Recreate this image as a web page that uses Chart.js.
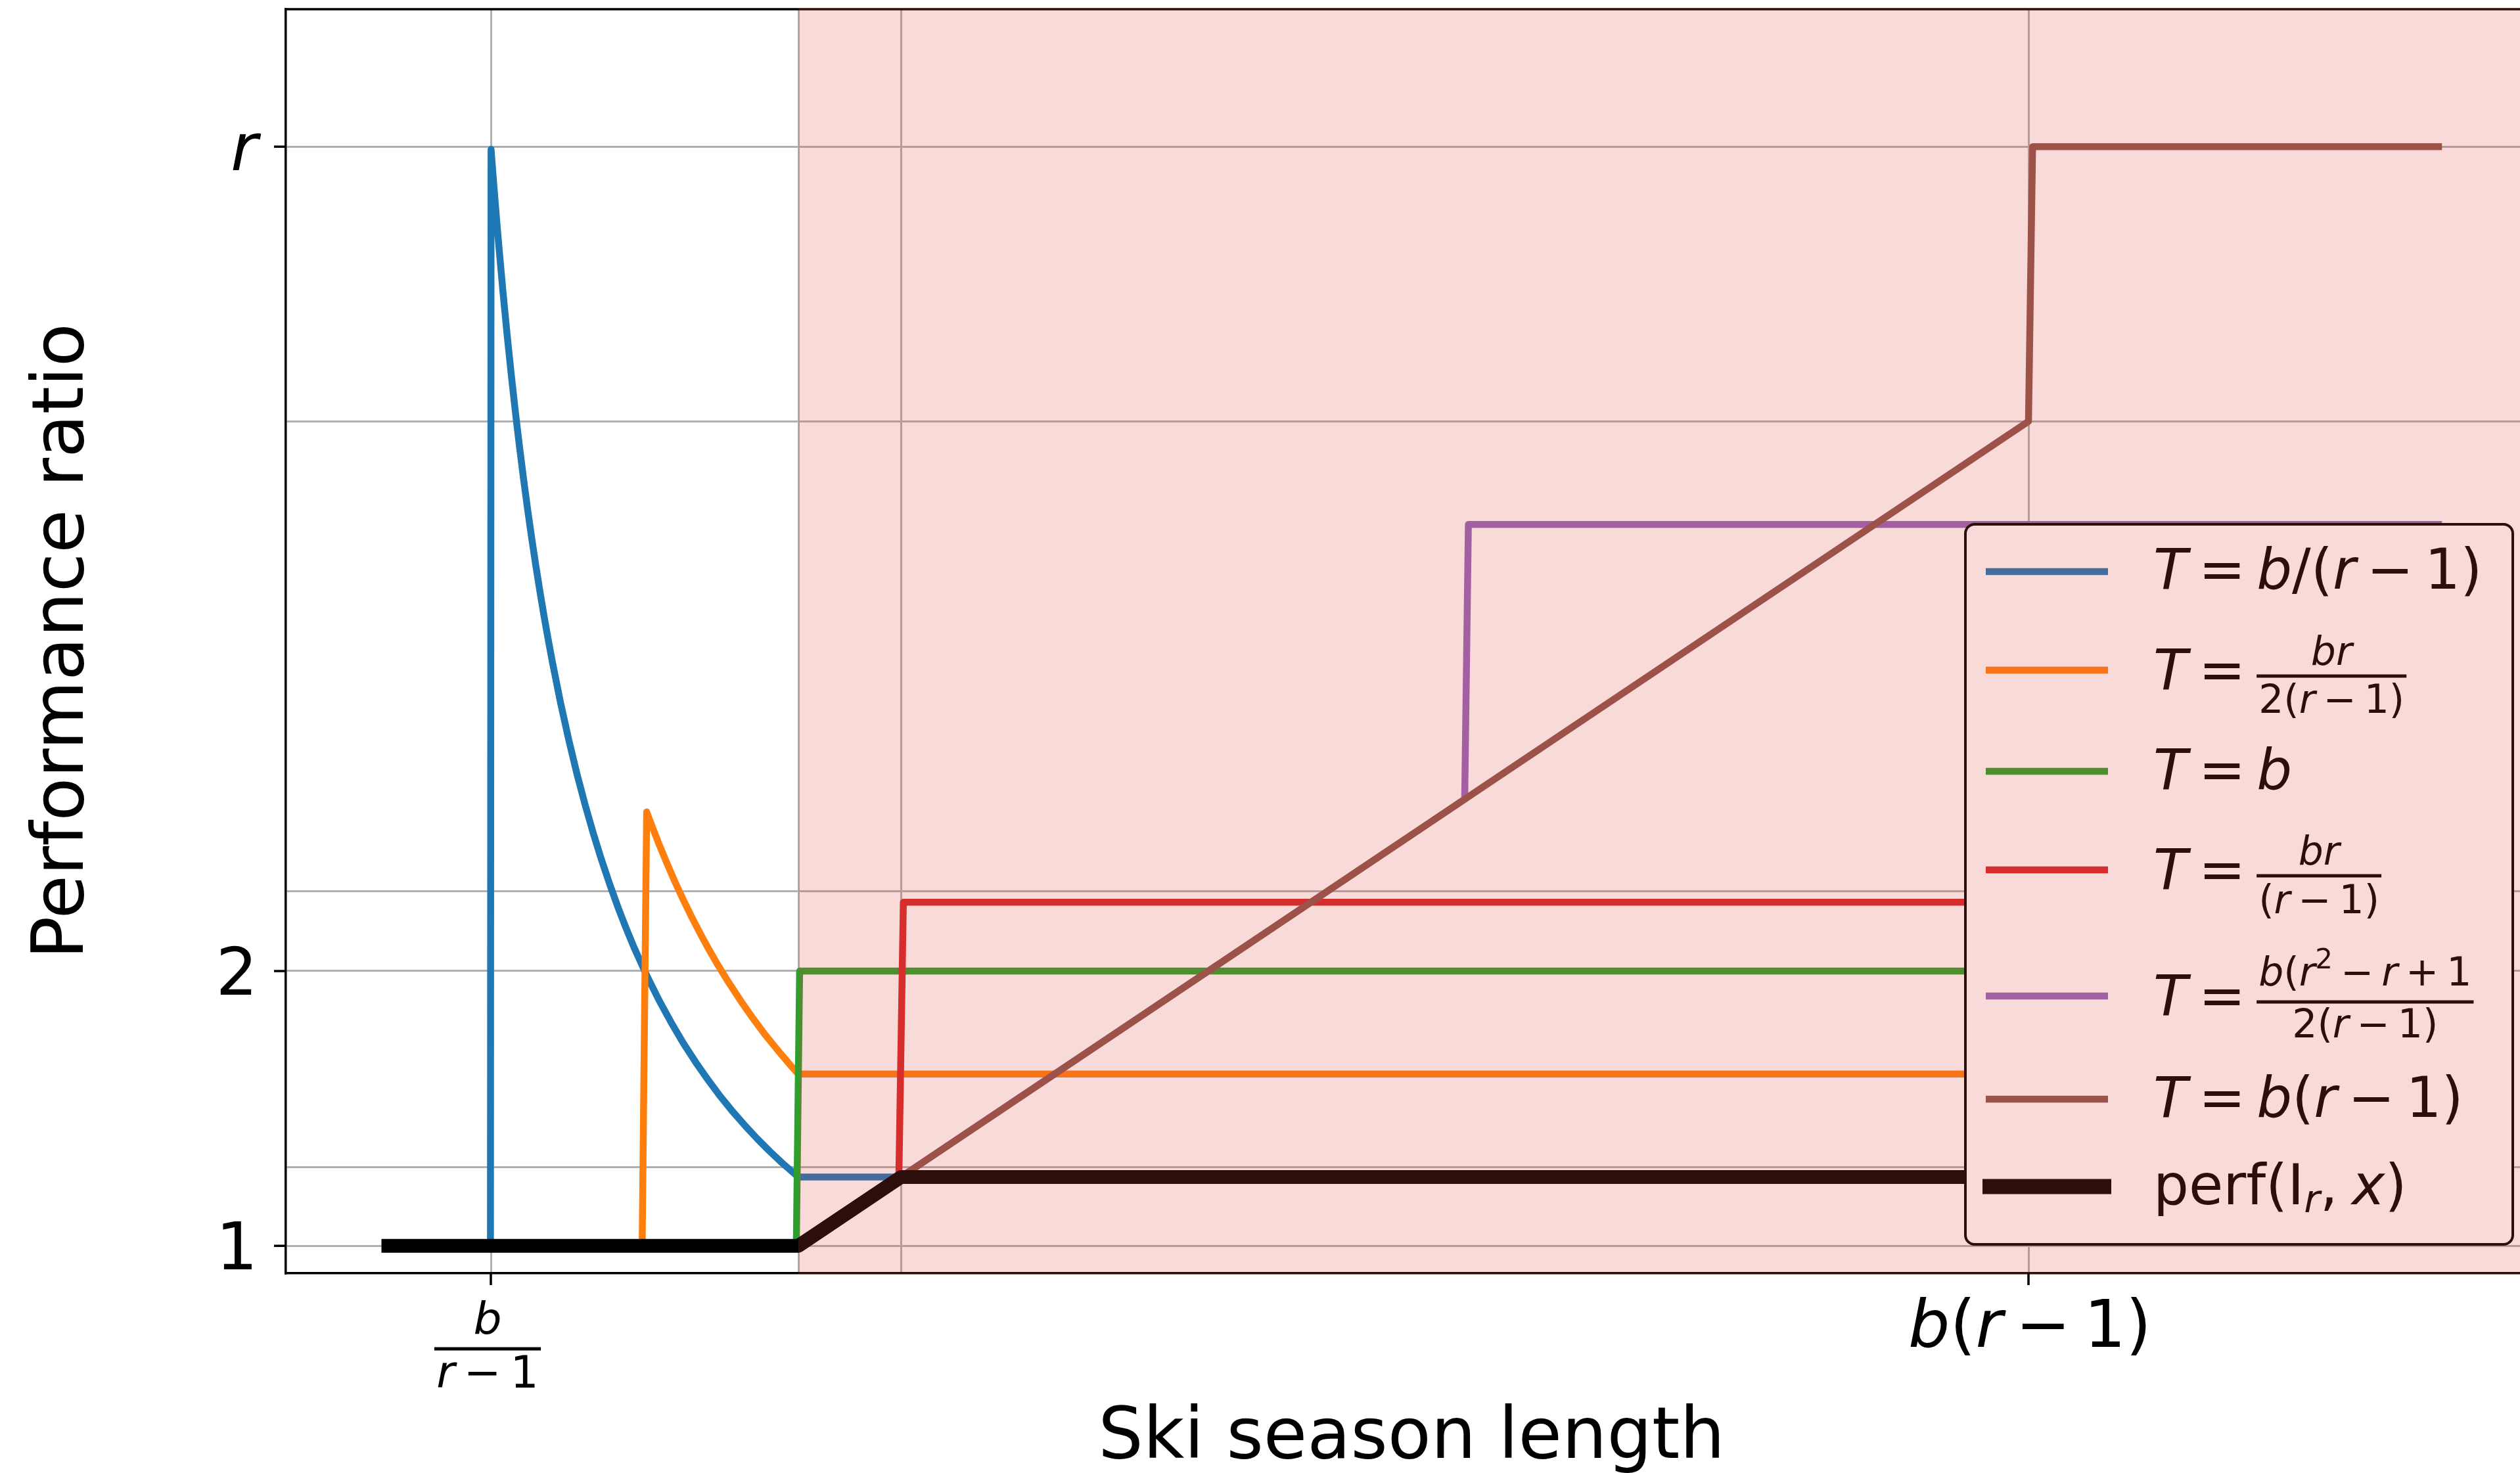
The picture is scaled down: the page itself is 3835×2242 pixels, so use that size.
<!DOCTYPE html>
<html>
<head>
<meta charset="utf-8">
<title>Ski season length vs performance ratio</title>
<script src="https://cdn.jsdelivr.net/npm/chart.js@4.4.0/dist/chart.umd.min.js"></script>
<style>
  html, body { margin: 0; padding: 0; overflow: hidden; background: #fff; }
  canvas { display: block; }
</style>
</head>
<body>
<canvas id="ratio-chart" width="3875" height="2242"></canvas>
<script>
// buy-at-T strategies for ski rental, with b = 1 and r = 5
const blueX = [0, 0.249, 0.2505, 0.255, 0.26, 0.265, 0.27, 0.28, 0.29, 0.30, 0.31, 0.32, 0.33, 0.34, 0.35, 0.36, 0.37, 0.38, 0.39, 0.40,
  0.42, 0.44, 0.46, 0.48, 0.50, 0.52, 0.54, 0.56, 0.58, 0.60, 0.63, 0.66, 0.69, 0.72, 0.75, 0.78, 0.81, 0.84, 0.87, 0.90, 0.93, 0.96, 1.00, 5.00];
const blueY = [1, 1, 4.99, 4.902, 4.808, 4.717, 4.630, 4.464, 4.310, 4.167, 4.032, 3.906, 3.788, 3.676, 3.571, 3.472, 3.378, 3.289, 3.205, 3.125,
  2.976, 2.841, 2.717, 2.604, 2.500, 2.404, 2.315, 2.232, 2.155, 2.083, 1.984, 1.894, 1.812, 1.736, 1.667, 1.603, 1.543, 1.488, 1.437, 1.389, 1.344, 1.302, 1.25, 1.25];

const orangeX = [0, 0.619, 0.630, 0.64, 0.66, 0.68, 0.70, 0.72, 0.74, 0.76, 0.78, 0.80, 0.83, 0.86, 0.89, 0.92, 0.95, 0.98, 1.00, 5.00];
const orangeY = [1, 1, 2.579, 2.539, 2.462, 2.390, 2.321, 2.257, 2.196, 2.138, 2.083, 2.031, 1.958, 1.890, 1.826, 1.766, 1.711, 1.658, 1.625, 1.625];

const greenX = [0, 0.995, 1.003, 5];
const greenY = [1, 1, 2, 2];

const redX = [0, 1, 1.245, 1.256, 5];
const redY = [1, 1, 1.245, 2.25, 2.25];

const purpleX = [0, 1, 2.625, 2.634, 5];
const purpleY = [1, 1, 2.625, 3.625, 3.625];

const brownX = [0, 1, 4.0, 4.01, 5];
const brownY = [1, 1, 4.0, 5, 5];

const perfX = [0, 1, 1.25, 5];
const perfY = [1, 1, 1.25, 1.25];

const xGrid = [0.25, 1, 1.25, 4];
const yGrid = [1, 1.287, 2, 2.29, 4, 5];
const xTickValues = [0.25, 4];
const yTickValues = [1, 2, 5];
const yTickLabels = ['1', '2', 'r'];
const shadeStart = 1;

const FAM = '"DejaVu Sans", "Liberation Sans", sans-serif';

// tiny mathtext-ish helpers
const I = t => ({ t, it: true });
const U = t => ({ t });
const S = (em = 0.2) => ({ sp: em });
const SUP = t => ({ t, sup: true });
const SUB = t => ({ t, it: true, sub: true });

function setFont(ctx, p, size) {
  const fs = (p.sup || p.sub) ? size * 0.7 : size;
  ctx.font = (p.it ? 'italic ' : '') + fs + 'px ' + FAM;
}

function mathWidth(ctx, parts, size) {
  let w = 0;
  for (const p of parts) {
    if (p.sp) { w += p.sp * size; continue; }
    setFont(ctx, p, size);
    w += ctx.measureText(p.t).width;
  }
  return w;
}

function drawMath(ctx, parts, x, y, size, align) {
  let cx = x;
  const w = mathWidth(ctx, parts, size);
  if (align === 'center') cx -= w / 2;
  if (align === 'right') cx -= w;
  ctx.textAlign = 'left';
  ctx.textBaseline = 'alphabetic';
  for (const p of parts) {
    if (p.sp) { cx += p.sp * size; continue; }
    setFont(ctx, p, size);
    const dy = p.sup ? -0.43 * size : p.sub ? 0.14 * size : 0;
    ctx.fillText(p.t, cx, y + dy);
    cx += ctx.measureText(p.t).width;
  }
  return cx;
}

function drawFrac(ctx, num, den, x, bar, size, nb, db, align) {
  const w = Math.max(mathWidth(ctx, num, size), mathWidth(ctx, den, size)) + 0.1 * size;
  const left = align === 'center' ? x - w / 2 : x;
  ctx.fillRect(left, bar - 2.5, w, 5);
  drawMath(ctx, num, left + w / 2, nb, size, 'center');
  drawMath(ctx, den, left + w / 2, db, size, 'center');
  return left + w;
}

const eq = [I('T'), S(), U('='), S()];
const denR1 = [U('('), I('r'), S(), U('−'), S(), U('1)')];
const legendRows = [
  { color: '#1f77b4', w: 10.5, lineY: 870, base: 896,
    parts: [...eq, I('b'), U('/('), I('r'), S(), U('−'), S(), U('1)')] },
  { color: '#ff7f0e', w: 10.5, lineY: 1020, base: 1049,
    frac: { num: [I('br')], den: [U('2'), ...denR1], bar: 1029, nb: 1012, db: 1085 } },
  { color: '#2ca02c', w: 10.5, lineY: 1174, base: 1201, parts: [...eq, I('b')] },
  { color: '#d62728', w: 10.5, lineY: 1324, base: 1353,
    frac: { num: [I('br')], den: denR1, bar: 1333, nb: 1316, db: 1390 } },
  { color: '#9467bd', w: 10.5, lineY: 1516, base: 1545,
    frac: { num: [I('b'), U('('), I('r'), SUP('2'), S(), U('−'), S(), I('r'), S(), U('+'), S(), U('1')],
            den: [U('2'), ...denR1], bar: 1525, nb: 1500, db: 1579 } },
  { color: '#8c564b', w: 10.5, lineY: 1673, base: 1700,
    parts: [...eq, I('b'), U('('), I('r'), S(), U('−'), S(), U('1)')] },
  { color: '#000000', w: 23, lineY: 1806, base: 1833,
    parts: [U('perf(I'), SUB('r'), U(','), S(0.25), I('x'), U(')')] }
];

const pts = (xs, ys) => xs.map((x, i) => ({ x, y: ys[i] }));

const series = [
  { xs: blueX, ys: blueY, color: '#1f77b4', w: 10.5 },
  { xs: orangeX, ys: orangeY, color: '#ff7f0e', w: 10.5 },
  { xs: greenX, ys: greenY, color: '#2ca02c', w: 10.5 },
  { xs: redX, ys: redY, color: '#d62728', w: 10.5 },
  { xs: purpleX, ys: purpleY, color: '#9467bd', w: 10.5 },
  { xs: brownX, ys: brownY, color: '#8c564b', w: 10.5 },
  { xs: perfX, ys: perfY, color: '#000000', w: 21 }
];

const decorations = {
  id: 'decorations',
  afterDatasetsDraw(chart) {
    const { ctx, chartArea: a } = chart;
    ctx.save();
    // top spine
    ctx.strokeStyle = '#000';
    ctx.lineWidth = 3.5;
    ctx.beginPath();
    ctx.moveTo(a.left, a.top);
    ctx.lineTo(a.right, a.top);
    ctx.stroke();

    // legend
    ctx.beginPath();
    ctx.roundRect(2991, 798, 833, 1096, 14);
    ctx.fillStyle = '#ffffff';
    ctx.fill();
    ctx.lineWidth = 4;
    ctx.strokeStyle = '#000';
    ctx.stroke();
    ctx.fillStyle = '#000';
    for (const row of legendRows) {
      ctx.strokeStyle = row.color;
      ctx.lineWidth = row.w;
      ctx.lineCap = 'butt';
      ctx.beginPath();
      const ext = row.w > 12 ? 5 : 0;
      ctx.moveTo(3022 - ext, row.lineY);
      ctx.lineTo(3208 + ext, row.lineY);
      ctx.stroke();
      if (row.parts) {
        drawMath(ctx, row.parts, 3277, row.base, 85, 'left');
      } else {
        const x = drawMath(ctx, eq, 3277, row.base, 85, 'left');
        const f = row.frac;
        drawFrac(ctx, f.num, f.den, x, f.bar, 60, f.nb, f.db, 'left');
      }
    }
    ctx.restore();
  },
  afterDraw(chart) {
    const { ctx, chartArea: a, scales } = chart;
    const xs = scales.x, ys = scales.y;
    ctx.save();
    // shaded region x >= b, drawn above everything inside the axes
    const x1 = xs.getPixelForValue(shadeStart);
    ctx.fillStyle = 'rgba(222, 72, 62, 0.2)';
    ctx.fillRect(x1, a.top - 2, a.right + 2 - x1, a.bottom - a.top + 4);

    // tick marks
    ctx.strokeStyle = '#000';
    ctx.lineWidth = 3.5;
    ctx.beginPath();
    for (const v of xTickValues) {
      const px = xs.getPixelForValue(v);
      ctx.moveTo(px, a.bottom);
      ctx.lineTo(px, a.bottom + 18);
    }
    for (const v of yTickValues) {
      const py = ys.getPixelForValue(v);
      ctx.moveTo(a.left, py);
      ctx.lineTo(a.left - 18, py);
    }
    ctx.stroke();

    // tick labels
    ctx.fillStyle = '#000';
    yTickValues.forEach((v, i) => {
      const py = ys.getPixelForValue(v);
      const lab = yTickLabels[i];
      const part = /^[0-9]+$/.test(lab) ? U(lab) : I(lab);
      drawMath(ctx, [part], 392, py + 36, 100, 'right');
    });
    const px0 = xs.getPixelForValue(xTickValues[0]);
    drawFrac(ctx, [I('b')], [I('r'), S(), U('−'), S(), U('1')], px0 - 5, 2053, 68, 2031, 2112, 'center');
    const px1 = xs.getPixelForValue(xTickValues[1]);
    drawMath(ctx, [I('b'), U('('), I('r'), S(), U('−'), S(), U('1)')], px1 + 2, 2050, 100, 'center');

    // axis titles
    ctx.font = '108px ' + FAM;
    ctx.textAlign = 'center';
    ctx.textBaseline = 'alphabetic';
    ctx.fillText('Ski season length', 2148, 2219);
    ctx.translate(126, (a.top + a.bottom) / 2);
    ctx.rotate(-Math.PI / 2);
    ctx.fillText('Performance ratio', 0, 0);
    ctx.restore();
  }
};

new Chart(document.getElementById('ratio-chart'), {
  type: 'line',
  data: {
    datasets: series.map((s, i) => ({
      data: pts(s.xs, s.ys),
      borderColor: s.color,
      backgroundColor: s.color,
      borderWidth: s.w,
      borderCapStyle: 'square',
      borderJoinStyle: 'round',
      pointRadius: 0,
      fill: false,
      tension: 0,
      order: series.length - i
    }))
  },
  options: {
    responsive: false,
    animation: false,
    devicePixelRatio: 1,
    events: [],
    layout: { padding: { left: 435, top: 14, right: 8, bottom: 304 } },
    plugins: { legend: { display: false }, tooltip: { enabled: false } },
    scales: {
      x: {
        type: 'linear',
        min: -0.25,
        max: 5.25,
        afterBuildTicks: (axis) => { axis.ticks = xGrid.map(v => ({ value: v })); },
        afterFit: (axis) => { axis.height = 0; },
        ticks: { display: false },
        grid: { color: '#b0b0b0', lineWidth: 3, drawTicks: false },
        border: { display: true, color: '#000', width: 3.5 }
      },
      y: {
        type: 'linear',
        min: 0.9,
        max: 5.5,
        afterBuildTicks: (axis) => { axis.ticks = yGrid.map(v => ({ value: v })); },
        afterFit: (axis) => { axis.width = 0; },
        ticks: { display: false },
        grid: { color: '#b0b0b0', lineWidth: 3, drawTicks: false },
        border: { display: true, color: '#000', width: 3.5 }
      }
    }
  },
  plugins: [decorations]
});
</script>
</body>
</html>
